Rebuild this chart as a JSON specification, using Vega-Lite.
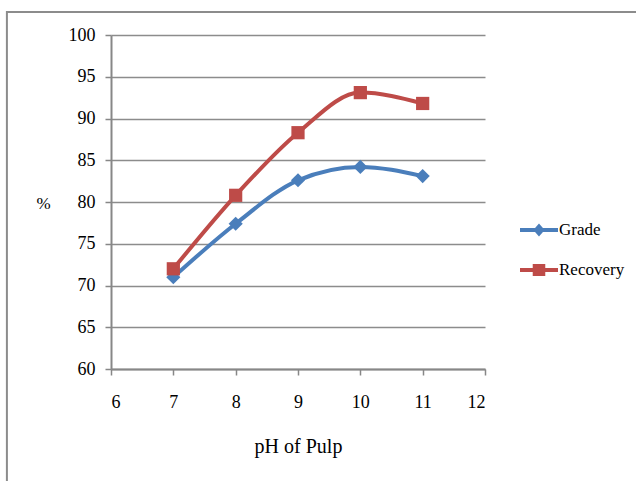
{
  "$schema": "https://vega.github.io/schema/vega-lite/v6.json",
  "width": 374,
  "height": 334,
  "autosize": {"type": "none"},
  "padding": {"left": 111, "top": 35, "right": 151, "bottom": 112},
  "background": "white",
  "config": {
    "font": "Liberation Serif",
    "view": {"stroke": null},
    "axis": {
      "domainColor": "#878787",
      "domainWidth": 2,
      "tickColor": "#878787",
      "tickWidth": 1.5,
      "tickSize": 6,
      "gridColor": "#8c8c8c",
      "gridWidth": 1.5,
      "labelColor": "black",
      "labelFont": "Liberation Serif",
      "titleFont": "Liberation Serif",
      "titleColor": "black",
      "titleFontWeight": "normal"
    }
  },
  "data": {
    "values": [
      {"ph": 7, "value": 71.0, "series": "Grade"},
      {"ph": 8, "value": 77.4, "series": "Grade"},
      {"ph": 9, "value": 82.6, "series": "Grade"},
      {"ph": 10, "value": 84.2, "series": "Grade"},
      {"ph": 11, "value": 83.1, "series": "Grade"},
      {"ph": 7, "value": 72.0, "series": "Recovery"},
      {"ph": 8, "value": 80.8, "series": "Recovery"},
      {"ph": 9, "value": 88.3, "series": "Recovery"},
      {"ph": 10, "value": 93.1, "series": "Recovery"},
      {"ph": 11, "value": 91.8, "series": "Recovery"}
    ]
  },
  "encoding": {
    "x": {
      "field": "ph",
      "type": "quantitative",
      "scale": {"domain": [6, 12], "nice": false, "zero": false},
      "axis": {
        "title": "pH of Pulp",
        "values": [6, 7, 8, 9, 10, 11, 12],
        "grid": false,
        "labelFontSize": 18,
        "labelPadding": 18,
        "titleFontSize": 20,
        "titlePadding": 25
      }
    },
    "y": {
      "field": "value",
      "type": "quantitative",
      "scale": {"domain": [60, 100], "nice": false, "zero": false},
      "axis": {
        "title": "%",
        "values": [60, 65, 70, 75, 80, 85, 90, 95, 100],
        "labelFontSize": 18,
        "labelPadding": 10,
        "titleAngle": 0,
        "titleFontSize": 17,
        "titleX": -68,
        "titleY": 168,
        "titleBaseline": "middle",
        "titleAlign": "center"
      }
    },
    "color": {
      "field": "series",
      "type": "nominal",
      "scale": {"domain": ["Grade", "Recovery"], "range": ["#4a7ebb", "#be4b48"]},
      "legend": {
        "title": null,
        "orient": "none",
        "legendX": 409,
        "legendY": 176,
        "labelFont": "Liberation Serif",
        "labelFontSize": 17,
        "labelColor": "black",
        "symbolSize": 1444,
        "symbolOpacity": 1,
        "symbolStrokeWidth": 0,
        "rowPadding": 13,
        "labelOffset": 1
      }
    }
  },
  "layer": [
    {
      "data": {"values": [{"x0": 4.33, "x1": 14.6, "y0": 102.75, "y1": 45}]},
      "mark": {"type": "rect", "fill": null, "stroke": "#8c8c8c", "strokeWidth": 2, "clip": false},
      "encoding": {
        "x": {"field": "x0", "type": "quantitative"},
        "x2": {"field": "x1"},
        "y": {"field": "y0", "type": "quantitative"},
        "y2": {"field": "y1"},
        "color": {"value": null}
      }
    },
    {
      "mark": {"type": "line", "interpolate": "monotone", "strokeWidth": 4}
    },
    {
      "transform": [{"filter": "datum.series === 'Grade'"}],
      "mark": {"type": "point", "filled": true, "size": 200, "opacity": 1, "shape": "diamond"}
    },
    {
      "transform": [{"filter": "datum.series === 'Recovery'"}],
      "mark": {"type": "point", "filled": true, "size": 175, "opacity": 1, "shape": "square"}
    },
    {
      "mark": {"type": "point", "filled": true, "size": 0, "opacity": 1},
      "encoding": {
        "shape": {
          "field": "series",
          "type": "nominal",
          "scale": {
            "domain": ["Grade", "Recovery"],
            "range": [
              "M-1,-0.1H1V0.1H-1Z M0,-0.34L0.3,0L0,0.34L-0.3,0Z",
              "M-1,-0.1H1V0.1H-1Z M-0.33,-0.32H0.33V0.32H-0.33Z"
            ]
          },
          "legend": {
            "title": null,
            "orient": "none",
            "legendX": 409,
            "legendY": 176,
            "labelFont": "Liberation Serif",
            "labelFontSize": 17,
            "labelColor": "black",
            "symbolSize": 1444,
            "symbolOpacity": 1,
            "symbolStrokeWidth": 0,
            "rowPadding": 13,
            "labelOffset": 1
          }
        }
      }
    }
  ]
}
